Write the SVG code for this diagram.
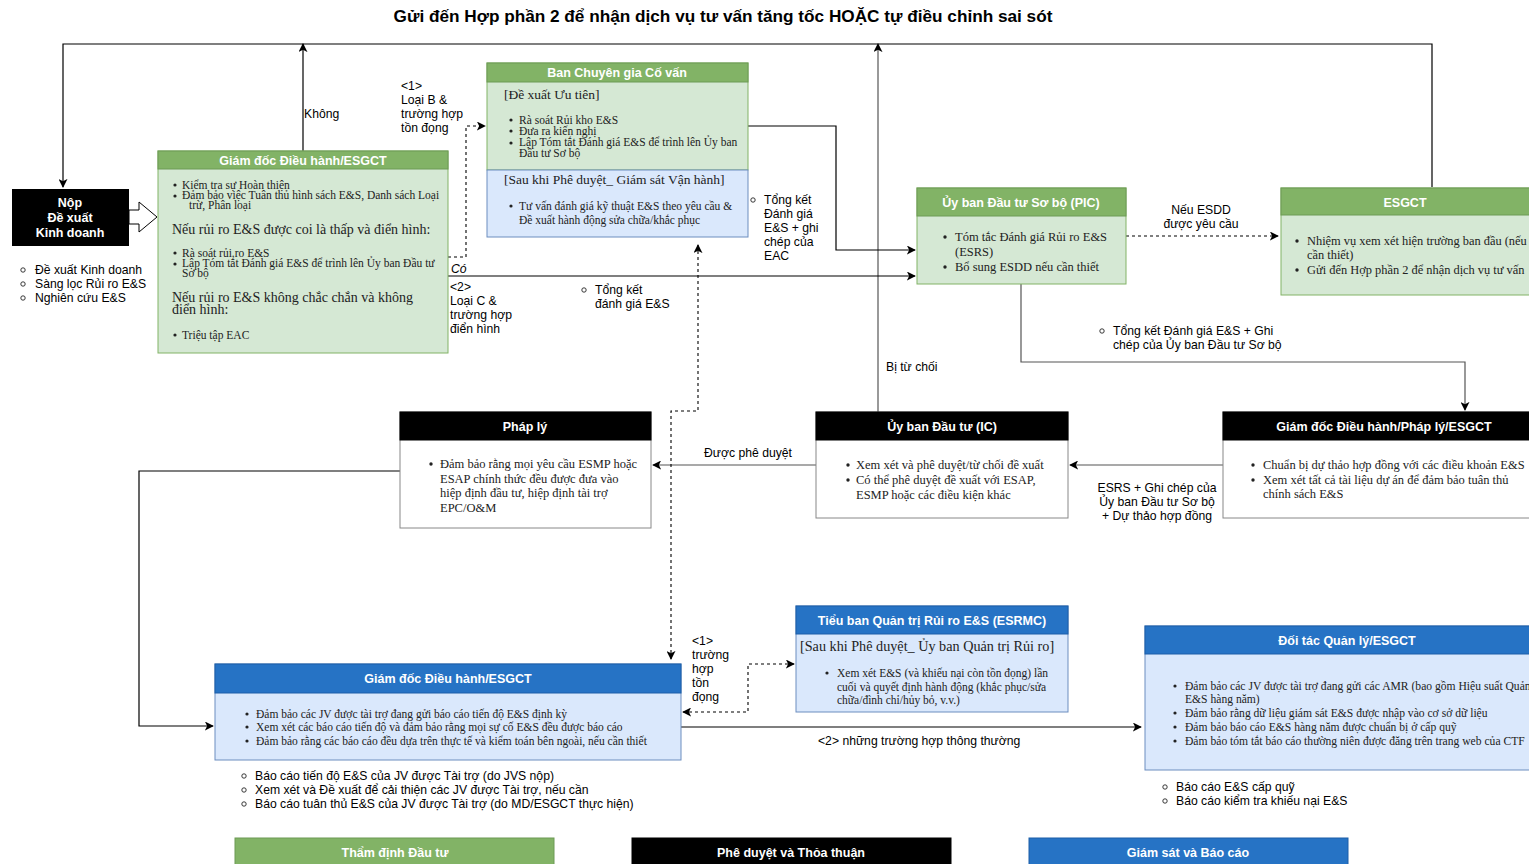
<svg xmlns="http://www.w3.org/2000/svg" width="1529" height="864" viewBox="0 0 1529 864">
<defs>
<marker id="ah" viewBox="0 0 10 10" refX="9" refY="5" markerWidth="9" markerHeight="9" markerUnits="userSpaceOnUse" orient="auto-start-reverse">
<path d="M0,0 L10,5 L0,10 L2.5,5 Z" fill="#000"/>
</marker>
</defs>
<style>
.t{font-family:"Liberation Sans",Arial,sans-serif;fill:#000}
.title{font-size:17.2px;font-weight:bold}
.hd{font-family:"Liberation Sans",Arial,sans-serif;font-size:12.5px;font-weight:bold;fill:#fff}
.lb{font-family:"Liberation Sans",Arial,sans-serif;font-size:12.2px;fill:#000}
.s{font-family:"Liberation Serif","Times New Roman",serif;fill:#222}
.s10{font-size:11.5px}
.s11{font-size:11.5px}
.s12{font-size:12.4px}
.s13{font-size:14px}
.gb{fill:#d5e8d4;stroke:#82b366;stroke-width:1}
.gh{fill:#82b366;stroke:#6d9a55;stroke-width:1}
.bb{fill:#dae8fc;stroke:#6c8ebf;stroke-width:1}
.bh{fill:#2673c5;stroke:#1c5fa8;stroke-width:1}
.wb{fill:#fff;stroke:#888;stroke-width:1}
.kh{fill:#000;stroke:#000}
.c{fill:none;stroke:#000;stroke-width:1.2}
.cg{fill:none;stroke:#555;stroke-width:1.2}
.d{fill:none;stroke:#000;stroke-width:1.1;stroke-dasharray:3,3}
.dot{fill:#222}
.ring{fill:none;stroke:#222;stroke-width:0.9}
</style>

<text class="t title" x="723" y="22" text-anchor="middle">Gửi đến Hợp phần 2 để nhận dịch vụ tư vấn tăng tốc HOẶC tự điều chỉnh sai sót</text>

<g id="connectors">
<path class="c" d="M1432,187 L1432,44 L63,44 L63,187" marker-end="url(#ah)"/>
<path class="c" d="M303,151 L303,44" marker-end="url(#ah)"/>
<path class="cg" d="M878,412 L878,44" marker-end="url(#ah)"/>
<path class="d" d="M448,257 L466,257 L466,126 L485,126" marker-end="url(#ah)"/>
<path class="c" d="M448,276 L915,276" marker-end="url(#ah)"/>
<path class="c" d="M748,126 L836,126 L836,250 L915,250" marker-end="url(#ah)"/>
<path class="d" d="M1126,236 L1278,236" marker-end="url(#ah)"/>
<path class="cg" d="M1021,284 L1021,362 L1465,362 L1465,410" marker-end="url(#ah)"/>
<path class="cg" d="M1223,465 L1070,465" marker-end="url(#ah)"/>
<path class="cg" d="M816,465 L653,465" marker-end="url(#ah)"/>
<path class="d" d="M698,245 L698,411 L671,411 L671,659" marker-start="url(#ah)" marker-end="url(#ah)"/>
<path class="c" d="M400,471 L139,471 L139,726 L213,726" marker-end="url(#ah)"/>
<path class="d" d="M683,712 L748,712 L748,664 L794,664" marker-start="url(#ah)" marker-end="url(#ah)"/>
<path class="c" d="M681,727 L1141,727" marker-end="url(#ah)"/>
<polygon points="129,210 139,210 139,202 157,217 139,232 139,224 129,224" fill="#fff" stroke="#000" stroke-width="1"/>

<text class="lb" x="304" y="118">Không</text>
<text class="lb" x="401" y="90">&lt;1&gt;</text>
<text class="lb" x="401" y="104">Loại B &amp;</text>
<text class="lb" x="401" y="118">trường hợp</text>
<text class="lb" x="401" y="132">tồn đọng</text>
<text class="lb" x="451" y="273" font-style="italic">Có</text>
<text class="lb" x="450" y="291">&lt;2&gt;</text>
<text class="lb" x="450" y="305">Loại C &amp;</text>
<text class="lb" x="450" y="319">trường hợp</text>
<text class="lb" x="450" y="333">điển hình</text>
<circle class="ring" cx="584" cy="290" r="2.2"/>
<text class="lb" x="595" y="294">Tổng kết</text>
<text class="lb" x="595" y="308">đánh giá E&amp;S</text>
<circle class="ring" cx="753" cy="200" r="2.2"/>
<text class="lb" x="764" y="204">Tổng kết</text>
<text class="lb" x="764" y="218">Đánh giá</text>
<text class="lb" x="764" y="232">E&amp;S + ghi</text>
<text class="lb" x="764" y="246">chép của</text>
<text class="lb" x="764" y="260">EAC</text>
<text class="lb" x="1201" y="214" text-anchor="middle">Nếu ESDD</text>
<text class="lb" x="1201" y="228" text-anchor="middle">được yêu cầu</text>
<circle class="ring" cx="1102" cy="331" r="2.2"/>
<text class="lb" x="1113" y="335">Tổng kết Đánh giá E&amp;S + Ghi</text>
<text class="lb" x="1113" y="349">chép của Ủy ban Đầu tư Sơ bộ</text>
<text class="lb" x="886" y="371">Bị từ chối</text>
<text class="lb" x="748" y="457" text-anchor="middle">Được phê duyệt</text>
<text class="lb" x="1157" y="492" text-anchor="middle">ESRS + Ghi chép của</text>
<text class="lb" x="1157" y="506" text-anchor="middle">Ủy ban Đầu tư Sơ bộ</text>
<text class="lb" x="1157" y="520" text-anchor="middle">+ Dự thảo hợp đồng</text>
<text class="lb" x="692" y="645">&lt;1&gt;</text>
<text class="lb" x="692" y="659">trường</text>
<text class="lb" x="692" y="673">hợp</text>
<text class="lb" x="692" y="687">tồn</text>
<text class="lb" x="692" y="701">đọng</text>
<text class="lb" x="818" y="745">&lt;2&gt; những trường hợp thông thường</text>
</g>

<g id="nop">
<rect x="12" y="189" width="117" height="57" fill="#000"/>
<text class="hd" x="70" y="207" text-anchor="middle">Nộp</text>
<text class="hd" x="70" y="222" text-anchor="middle">Đề xuất</text>
<text class="hd" x="70" y="237" text-anchor="middle">Kinh doanh</text>
<circle class="ring" cx="23" cy="270" r="2.2"/>
<circle class="ring" cx="23" cy="284" r="2.2"/>
<circle class="ring" cx="23" cy="298" r="2.2"/>
<text class="lb" x="35" y="274">Đề xuất Kinh doanh</text>
<text class="lb" x="35" y="288">Sàng lọc Rủi ro E&amp;S</text>
<text class="lb" x="35" y="302">Nghiên cứu E&amp;S</text>
</g>

<g id="gd-esgct-top">
<rect class="gb" x="158" y="151" width="290" height="202"/>
<rect class="gh" x="158" y="151" width="290" height="18"/>
<text class="hd" x="303" y="164.5" text-anchor="middle">Giám đốc Điều hành/ESGCT</text>
<circle class="dot" cx="175" cy="185" r="1.6"/>
<circle class="dot" cx="175" cy="196" r="1.6"/>
<text class="s s11" x="182" y="189">Kiểm tra sự Hoàn thiện</text>
<text class="s s11" x="182" y="199">Đảm bảo việc Tuân thủ hình sách E&amp;S, Danh sách Loại</text>
<text class="s s11" x="189" y="209">trừ, Phân loại</text>
<text class="s s13" x="172" y="234">Nếu rủi ro E&amp;S được coi là thấp và điển hình:</text>
<circle class="dot" cx="175" cy="253" r="1.6"/>
<circle class="dot" cx="175" cy="264" r="1.6"/>
<text class="s s11" x="182" y="257">Rà soát rủi.ro E&amp;S</text>
<text class="s s11" x="182" y="267">Lập Tóm tắt Đánh giá E&amp;S để trình lên Ủy ban Đầu tư</text>
<text class="s s11" x="182" y="277">Sơ bộ</text>
<text class="s s13" x="172" y="302">Nếu rủi ro E&amp;S không chắc chắn và không</text>
<text class="s s13" x="172" y="314">điển hình:</text>
<circle class="dot" cx="175" cy="335" r="1.6"/>
<text class="s s11" x="182" y="339">Triệu tập EAC</text>
</g>

<g id="ban-chuyen-gia">
<rect class="gb" x="487" y="63" width="261" height="107"/>
<rect class="bb" x="487" y="170" width="261" height="67"/>
<rect class="gh" x="487" y="63" width="261" height="19"/>
<text class="hd" x="617" y="77" text-anchor="middle">Ban Chuyên gia Cố vấn</text>
<text class="s" font-size="13.5" x="504" y="99">[Đề xuất Ưu tiên]</text>
<circle class="dot" cx="511" cy="120" r="1.6"/>
<circle class="dot" cx="511" cy="131" r="1.6"/>
<circle class="dot" cx="511" cy="143" r="1.6"/>
<text class="s s11" x="519" y="124">Rà soát Rủi kho E&amp;S</text>
<text class="s s11" x="519" y="135">Đưa ra kiến nghị</text>
<text class="s s11" x="519" y="146">Lập Tóm tắt Đánh giá E&amp;S để trình lên Ủy ban</text>
<text class="s s11" x="519" y="157">Đầu tư Sơ bộ</text>
<text class="s" font-size="13.5" x="504" y="184">[Sau khi Phê duyệt_ Giám sát Vận hành]</text>
<circle class="dot" cx="511" cy="206" r="1.6"/>
<text class="s s11" x="519" y="210">Tư vấn đánh giá kỹ thuật E&amp;S theo yêu cầu &amp;</text>
<text class="s s11" x="519" y="224">Đề xuất hành động sửa chữa/khắc phục</text>
</g>

<g id="pic">
<rect class="gb" x="917" y="188" width="209" height="96"/>
<rect class="gh" x="917" y="188" width="209" height="28"/>
<text class="hd" x="1021" y="207" text-anchor="middle">Ủy ban Đầu tư Sơ bộ (PIC)</text>
<circle class="dot" cx="945" cy="237" r="1.7"/>
<circle class="dot" cx="945" cy="267" r="1.7"/>
<text class="s" font-size="12.5" x="955" y="241">Tóm tắc Đánh giá Rủi ro E&amp;S</text>
<text class="s" font-size="12.5" x="955" y="256">(ESRS)</text>
<text class="s" font-size="12.5" x="955" y="271">Bổ sung ESDD nếu cần thiết</text>
</g>

<g id="esgct">
<rect class="gb" x="1281" y="188" width="252" height="107"/>
<rect class="gh" x="1281" y="188" width="252" height="27"/>
<text class="hd" x="1405" y="207" text-anchor="middle">ESGCT</text>
<circle class="dot" cx="1297" cy="241" r="1.7"/>
<circle class="dot" cx="1297" cy="270" r="1.7"/>
<text class="s s12" x="1307" y="245">Nhiệm vụ xem xét hiện trường ban đầu (nếu</text>
<text class="s s12" x="1307" y="259">cần thiết)</text>
<text class="s s12" x="1307" y="274">Gửi đến Hợp phần 2 để nhận dịch vụ tư vấn</text>
</g>

<g id="phap-ly">
<rect class="wb" x="400" y="412" width="251" height="116"/>
<rect class="kh" x="400" y="412" width="251" height="28"/>
<text class="hd" x="525" y="431" text-anchor="middle">Pháp lý</text>
<circle class="dot" cx="431" cy="464" r="1.7"/>
<text class="s" font-size="12.5" x="440" y="468">Đảm bảo rằng mọi yêu cầu ESMP hoặc</text>
<text class="s" font-size="12.5" x="440" y="483">ESAP chính thức đều được đưa vào</text>
<text class="s" font-size="12.5" x="440" y="497">hiệp định đầu tư, hiệp định tài trợ</text>
<text class="s" font-size="12.5" x="440" y="512">EPC/O&amp;M</text>
</g>

<g id="ic">
<rect class="wb" x="816" y="412" width="252" height="106"/>
<rect class="kh" x="816" y="412" width="252" height="28"/>
<text class="hd" x="942" y="431" text-anchor="middle">Ủy ban Đầu tư (IC)</text>
<circle class="dot" cx="848" cy="465" r="1.7"/>
<circle class="dot" cx="848" cy="480" r="1.7"/>
<text class="s" font-size="12.5" x="856" y="469">Xem xét và phê duyệt/từ chối đề xuất</text>
<text class="s" font-size="12.5" x="856" y="484">Có thể phê duyệt đề xuất với ESAP,</text>
<text class="s" font-size="12.5" x="856" y="499">ESMP hoặc các điều kiện khác</text>
</g>

<g id="gd-phap-ly">
<rect class="wb" x="1223" y="412" width="322" height="106"/>
<rect class="kh" x="1223" y="412" width="322" height="28"/>
<text class="hd" x="1384" y="431" text-anchor="middle">Giám đốc Điều hành/Pháp lý/ESGCT</text>
<circle class="dot" cx="1253" cy="465" r="1.7"/>
<circle class="dot" cx="1253" cy="480" r="1.7"/>
<text class="s" font-size="12.5" x="1263" y="469">Chuẩn bị dự thảo hợp đồng với các điều khoản E&amp;S</text>
<text class="s" font-size="12.5" x="1263" y="484">Xem xét tất cả tài liệu dự án để đảm bảo tuân thủ</text>
<text class="s" font-size="12.5" x="1263" y="498">chính sách E&amp;S</text>
</g>

<g id="esrmc">
<rect class="bb" x="796" y="606" width="272" height="106"/>
<rect class="bh" x="796" y="606" width="272" height="28"/>
<text class="hd" x="932" y="625" text-anchor="middle">Tiểu ban Quản trị Rủi ro E&amp;S (ESRMC)</text>
<text class="s" font-size="14.2" x="800" y="651">[Sau khi Phê duyệt_ Ủy ban Quản trị Rủi ro]</text>
<circle class="dot" cx="827" cy="673" r="1.6"/>
<text class="s s11" x="837" y="677">Xem xét E&amp;S (và khiếu nại còn tồn đọng) lần</text>
<text class="s s11" x="837" y="691">cuối và quyết định hành động (khắc phục/sửa</text>
<text class="s s11" x="837" y="704">chữa/đình chỉ/hủy bỏ, v.v.)</text>
</g>

<g id="gd-esgct-bottom">
<rect class="bb" x="215" y="664" width="466" height="96"/>
<rect class="bh" x="215" y="664" width="466" height="29"/>
<text class="hd" x="448" y="683" text-anchor="middle">Giám đốc Điều hành/ESGCT</text>
<circle class="dot" cx="247" cy="714" r="1.6"/>
<circle class="dot" cx="247" cy="727" r="1.6"/>
<circle class="dot" cx="247" cy="741" r="1.6"/>
<text class="s s10" x="256" y="718">Đảm bảo các JV được tài trợ đang gửi báo cáo tiến độ E&amp;S định kỳ</text>
<text class="s s10" x="256" y="731">Xem xét các báo cáo tiến độ và đảm bảo rằng mọi sự cố E&amp;S đều được báo cáo</text>
<text class="s s10" x="256" y="745">Đảm bảo rằng các báo cáo đều dựa trên thực tế và kiểm toán bên ngoài, nếu cần thiết</text>
<circle class="ring" cx="244" cy="776" r="2.2"/>
<circle class="ring" cx="244" cy="790" r="2.2"/>
<circle class="ring" cx="244" cy="804" r="2.2"/>
<text class="lb" x="255" y="780">Báo cáo tiến độ E&amp;S của JV được Tài trợ (do JVS nộp)</text>
<text class="lb" x="255" y="794">Xem xét và Đề xuất để cải thiện các JV được Tài trợ, nếu cần</text>
<text class="lb" x="255" y="808">Báo cáo tuân thủ E&amp;S của JV được Tài trợ (do MD/ESGCT thực hiện)</text>
</g>

<g id="doi-tac">
<rect class="bb" x="1145" y="626" width="404" height="144"/>
<rect class="bh" x="1145" y="626" width="404" height="28"/>
<text class="hd" x="1347" y="645" text-anchor="middle">Đối tác Quản lý/ESGCT</text>
<circle class="dot" cx="1175" cy="686" r="1.6"/>
<circle class="dot" cx="1175" cy="713" r="1.6"/>
<circle class="dot" cx="1175" cy="727" r="1.6"/>
<circle class="dot" cx="1175" cy="741" r="1.6"/>
<text class="s" font-size="11.6" x="1185" y="690">Đảm bảo các JV được tài trợ đang gửi các AMR (bao gồm Hiệu suất Quản</text>
<text class="s" font-size="11.6" x="1185" y="703">E&amp;S hàng năm)</text>
<text class="s" font-size="11.6" x="1185" y="717">Đảm bảo rằng dữ liệu giám sát E&amp;S được nhập vào cơ sở dữ liệu</text>
<text class="s" font-size="11.6" x="1185" y="731">Đảm bảo báo cáo E&amp;S hàng năm được chuẩn bị ở cấp quỹ</text>
<text class="s" font-size="11.6" x="1185" y="745">Đảm bảo tóm tắt báo cáo thường niên được đăng trên trang web của CTF</text>
<circle class="ring" cx="1165" cy="787" r="2.2"/>
<circle class="ring" cx="1165" cy="801" r="2.2"/>
<text class="lb" x="1176" y="791">Báo cáo E&amp;S cấp quỹ</text>
<text class="lb" x="1176" y="805">Báo cáo kiểm tra khiếu nại E&amp;S</text>
</g>

<g id="legend">
<rect class="gh" x="235" y="838" width="319" height="30"/>
<text class="hd" x="395" y="857" text-anchor="middle">Thẩm định Đầu tư</text>
<rect class="kh" x="632" y="838" width="319" height="30"/>
<text class="hd" x="791" y="857" text-anchor="middle">Phê duyệt và Thỏa thuận</text>
<rect class="bh" x="1029" y="838" width="319" height="30"/>
<text class="hd" x="1188" y="857" text-anchor="middle">Giám sát và Báo cáo</text>
</g>
</svg>
